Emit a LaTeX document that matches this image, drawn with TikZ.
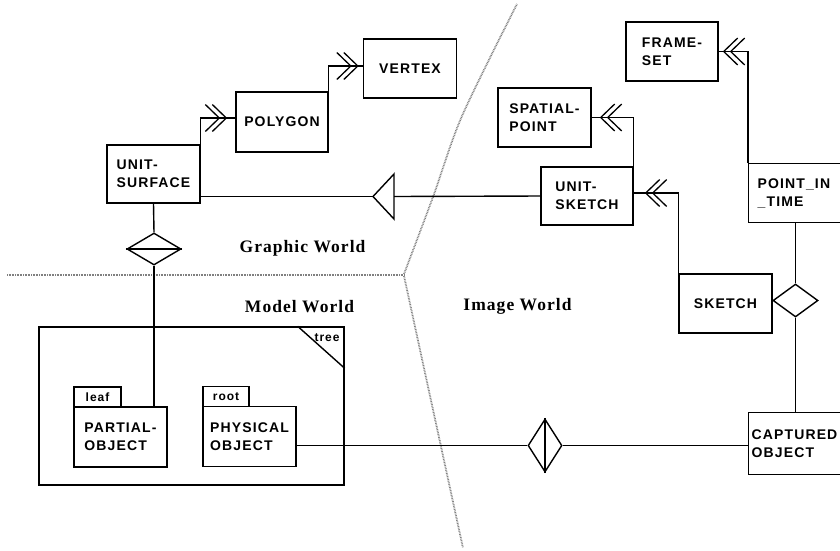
\documentclass[tikz,border=0pt]{standalone}
\usepackage{fontspec}
\setmainfont{Liberation Serif}
\newfontfamily\boxfont[LetterSpace=8]{Liberation Sans}
\newfontfamily\worldfont[LetterSpace=6]{Liberation Serif}
\usetikzlibrary{shapes.geometric,calc}
\tikzset{
  ent/.style={draw, line width=1.4pt, minimum width=93pt, minimum height=59pt, inner sep=0pt, align=left,
    font=\boxfont\bfseries\fontsize{14}{18}\selectfont},
  tabbox/.style={draw, line width=1.4pt, minimum width=47pt, minimum height=20pt, inner sep=0pt,
    font=\boxfont\bfseries\fontsize{12}{14}\selectfont},
  lnk/.style={line width=1.4pt},
  wld/.style={font=\worldfont\bfseries\fontsize{17.5}{20}\selectfont, anchor=base},
  bound/.style={black!50, line width=1.8pt, dash pattern=on .8pt off .8pt},
  rel/.style={diamond, draw, line width=1.4pt, inner sep=0pt},
  dbl/.pic={
    \draw[line width=1.3pt] (-14,-13.5) -- (0,0) -- (-14,13.5);
    \draw[line width=1.3pt] (-21,-13.5) -- (-7,0) -- (-21,13.5);
  }
}
\begin{document}
\begin{tikzpicture}[x=1pt,y=-1pt]
\useasboundingbox (0,0) rectangle (840,550);
\clip (0,0) rectangle (840,550);

% world boundaries
\draw[bound] (7,275) -- (404,275);
\draw[bound] plot[smooth] coordinates {(404,274) (433,197) (462,116) (517,4)};
\draw[bound] (404,276) -- (463,548);

% world labels
\node[wld] (gw) at (302.5,252) {Graphic World};
\node[wld] (mw) at (299.5,312) {Model World};
\node[wld] (iw) at (517.5,310) {Image World};

% entities
\node[ent] (vertex) at (410,68.5) {VERTEX};
\node[ent, minimum width=92pt, minimum height=60pt] (poly) at (282,122) {POLYGON};
\node[ent, minimum height=58pt] (us) at (153.5,174) {UNIT-\\SURFACE};
\node[ent, minimum width=92pt] (fs) at (672,51.5) {FRAME-\\SET};
\node[ent] (sp) at (544.5,117.5) {SPATIAL-\\POINT};
\node[ent, minimum width=92pt, minimum height=58pt] (usk) at (587,196) {UNIT-\\SKETCH};
\node[ent, anchor=north west, minimum width=0pt, text width=82pt, inner xsep=9pt, minimum height=59pt] (pit) at (748,163) {POINT\_IN\\\_TIME};
\node[ent] (sk) at (725.5,303.5) {SKETCH};
\node[ent, anchor=north west, minimum width=0pt, text width=92pt, inner xsep=3pt, minimum height=62pt] (co) at (748,412) {CAPTURED\\OBJECT};

% model world container
\node[draw, line width=1.4pt, minimum width=305pt, minimum height=158pt, inner sep=0pt] (tree) at (191.5,406) {};
\draw[lnk] ($(tree.north east)+(-47,0)$) -- ($(tree.north east)+(0,42)$);
\node[font=\boxfont\bfseries\fontsize{12}{14}\selectfont] (treelbl) at (327,338) {tree};

\node[ent, minimum height=60pt] (po) at (120.5,437) {PARTIAL-\\OBJECT};
\node[tabbox] (leaf) at (97.5,397) {leaf};
\node[ent, minimum height=60pt] (ph) at (249.5,436.5) {PHYSICAL\\OBJECT};
\node[tabbox, minimum width=46pt] (root) at (226,396.5) {root};

% relationships
\node[rel, minimum width=54pt, minimum height=32pt] (d1) at (154,249) {};
\draw[lnk] (d1.west) -- (d1.east);
\node[rel, minimum width=45pt, minimum height=33pt] (d2) at (795.5,300.5) {};
\node[rel, minimum width=34pt, minimum height=53pt] (d3) at (545,445.5) {};
\draw[lnk] (d3.north) -- (d3.south);

% generalisation triangle
\coordinate (gtip) at (373,196.5);
\coordinate (gbase) at (394,196.5);
\draw[lnk, line join=miter] (gtip) -- (394,174) -- (394,219) -- cycle;

% connectors
\draw[lnk] (us.north east) |- ($(poly.west)+(0,-4)$);
\pic at ($(poly.west)+(-9,-4)$) {dbl};
\draw[lnk] (poly.north east) |- ($(vertex.west)+(0,-2.5)$);
\pic at ($(vertex.west)+(-5,-2.5)$) {dbl};

\draw[lnk] (usk.west) -- (gbase);
\draw[lnk] (gtip) -- (gtip -| us.east);

\draw[lnk] (usk.north east) |- (sp.east);
\pic[rotate=180] at ($(sp.east)+(9,0)$) {dbl};
\draw[lnk] (sk.north west) |- ($(usk.east)+(0,-3)$);
\pic[rotate=180] at ($(usk.east)+(12,-3)$) {dbl};
\draw[lnk] (pit.north west) |- (fs.east);
\pic[rotate=180] at ($(fs.east)+(5,0)$) {dbl};

\draw[lnk] (d2.north) -- (d2.north |- pit.south);
\draw[lnk] (d2.south) -- (d2.south |- co.north);

\draw[lnk] (us.south) -- (d1.north);
\draw[lnk] (d1.south) -- (d1.south |- po.north);

\draw[lnk] (d3.west) -- (d3.west -| ph.east);
\draw[lnk] (d3.east) -- (d3.east -| co.west);
\end{tikzpicture}
\end{document}
